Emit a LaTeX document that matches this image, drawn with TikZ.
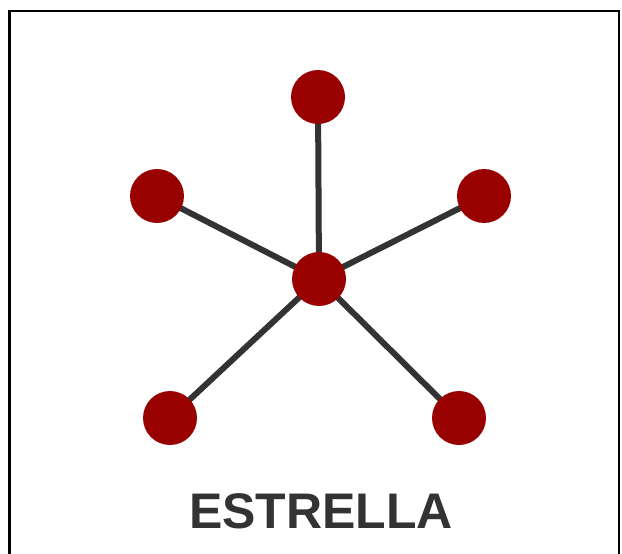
\documentclass[tikz,border=0pt]{standalone}
\usepackage{fontspec}
\setmainfont{Liberation Sans}
\usetikzlibrary{backgrounds}
\definecolor{nodered}{HTML}{990000}
\definecolor{edgegray}{HTML}{333333}
\begin{document}
\begin{tikzpicture}[x=1pt,y=-1pt,
  dot/.style={circle,fill=nodered,draw=none,minimum size=54pt,inner sep=0pt},
  link/.style={draw=edgegray,line width=6pt},
  frame/.style={draw=black,line width=2.5pt}]
\useasboundingbox (0,0) rectangle (622,554);
\draw[frame] (9.5,556) -- (9.5,11) -- (619,11) -- (619,556);
\node[dot] (c) at (319,279) {};
\node[dot] (t) at (318,97) {};
\node[dot] (l) at (157,196) {};
\node[dot] (r) at (484,196) {};
\node[dot] (bl) at (170,418) {};
\node[dot] (br) at (459,418) {};
\begin{scope}[on background layer]
\path[link] (c.center) -- (t.center) (c.center) -- (l.center) (c.center) -- (r.center)
  (c.center) -- (bl.center) (c.center) -- (br.center);
\end{scope}
\node[text=edgegray,font=\bfseries\fontsize{50}{50}\selectfont,anchor=base] (lbl) at (321,528) {ESTRELLA};
\end{tikzpicture}
\end{document}
